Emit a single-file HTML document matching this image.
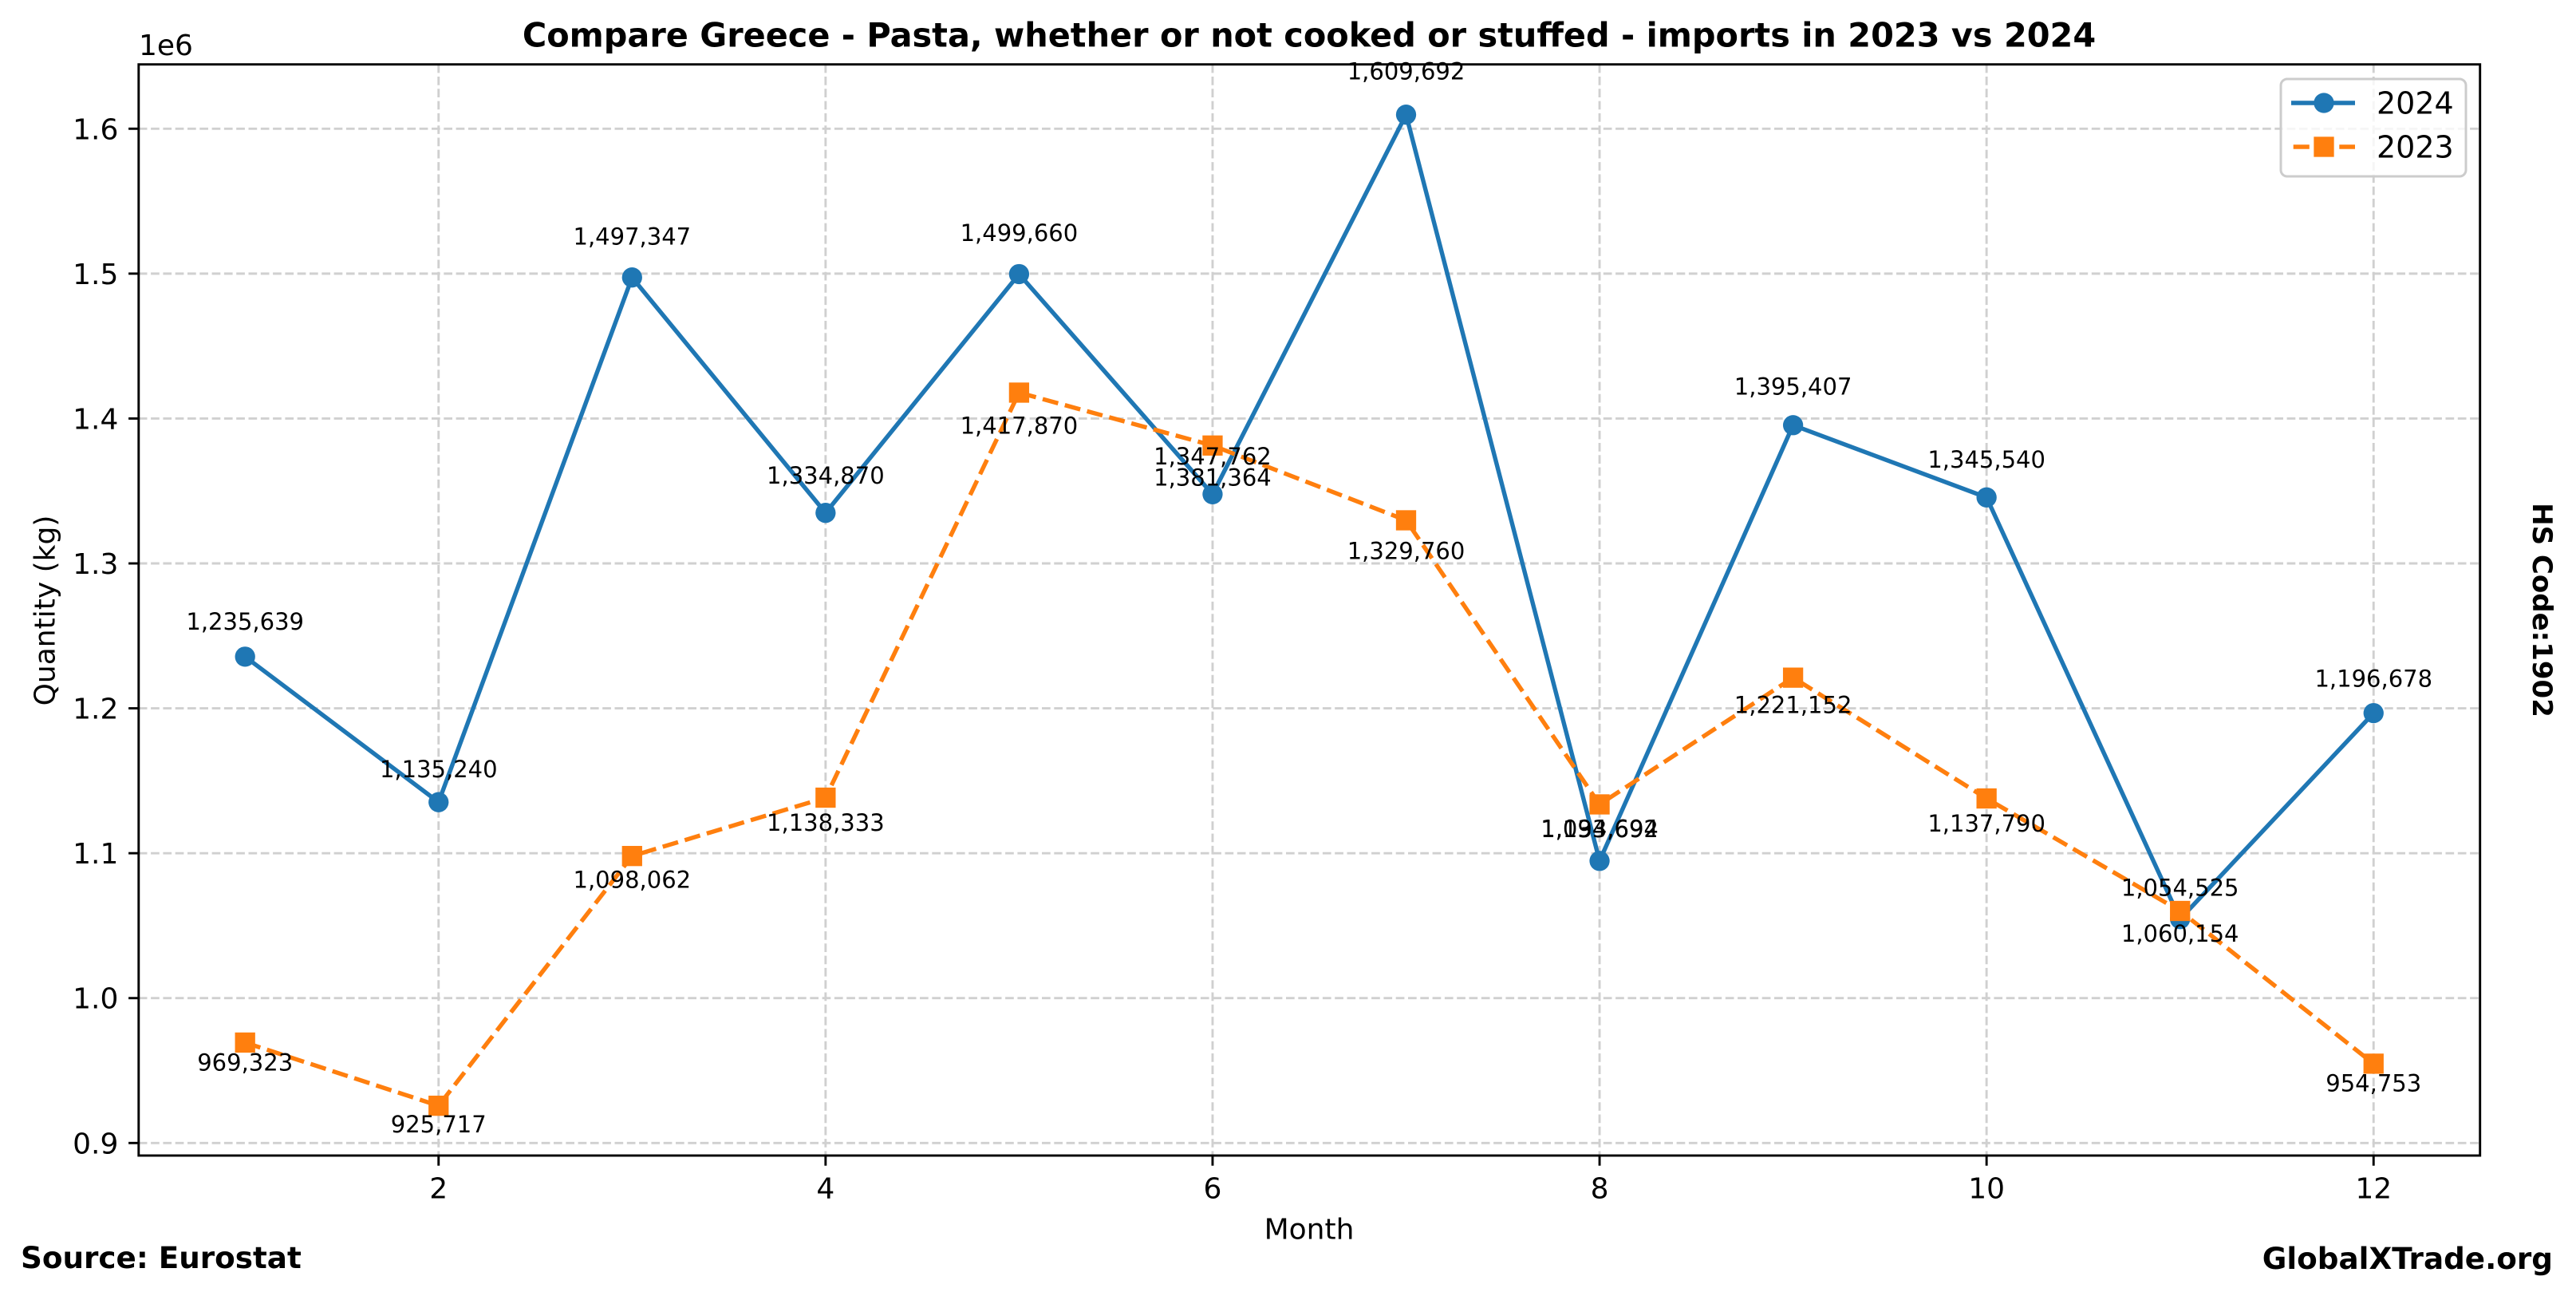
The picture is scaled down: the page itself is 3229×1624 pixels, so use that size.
<!DOCTYPE html>
<html><head><meta charset="utf-8"><style>
html,body{margin:0;padding:0;background:#fff;}
svg{display:block;}
text{font-family:"DejaVu Sans","Liberation Sans",sans-serif;fill:#000;}
</style></head><body>
<svg width="3229" height="1624" viewBox="0 0 3229 1624" xmlns="http://www.w3.org/2000/svg">
<rect x="0" y="0" width="3229" height="1624" fill="#fff"/>
<!-- grid -->
<g stroke="#d0d0d0" stroke-width="2.9" stroke-dasharray="10.7 4.6" fill="none">
<line x1="173.8" y1="161.3" x2="3108.7" y2="161.3"/>
<line x1="173.8" y1="342.87" x2="3108.7" y2="342.87"/>
<line x1="173.8" y1="524.44" x2="3108.7" y2="524.44"/>
<line x1="173.8" y1="706.01" x2="3108.7" y2="706.01"/>
<line x1="173.8" y1="887.58" x2="3108.7" y2="887.58"/>
<line x1="173.8" y1="1069.15" x2="3108.7" y2="1069.15"/>
<line x1="173.8" y1="1250.72" x2="3108.7" y2="1250.72"/>
<line x1="173.8" y1="1432.29" x2="3108.7" y2="1432.29"/>
<line x1="549.75" y1="80.7" x2="549.75" y2="1448"/>
<line x1="1034.85" y1="80.7" x2="1034.85" y2="1448"/>
<line x1="1519.95" y1="80.7" x2="1519.95" y2="1448"/>
<line x1="2005.05" y1="80.7" x2="2005.05" y2="1448"/>
<line x1="2490.15" y1="80.7" x2="2490.15" y2="1448"/>
<line x1="2975.25" y1="80.7" x2="2975.25" y2="1448"/>
</g>
<!-- 2024 series -->
<polyline fill="none" stroke="#1f77b4" stroke-width="5.4" stroke-linejoin="round" points="307.2,822.87 549.75,1005.17 792.3,347.69 1034.85,642.70 1277.4,343.49 1519.95,619.29 1762.5,143.70 2005.05,1078.78 2247.6,532.78 2490.15,623.32 2732.7,1151.72 2975.25,893.61"/>
<g fill="#1f77b4">
<circle cx="307.2" cy="822.87" r="12.65"/>
<circle cx="549.75" cy="1005.17" r="12.65"/>
<circle cx="792.3" cy="347.69" r="12.65"/>
<circle cx="1034.85" cy="642.70" r="12.65"/>
<circle cx="1277.4" cy="343.49" r="12.65"/>
<circle cx="1519.95" cy="619.29" r="12.65"/>
<circle cx="1762.5" cy="143.70" r="12.65"/>
<circle cx="2005.05" cy="1078.78" r="12.65"/>
<circle cx="2247.6" cy="532.78" r="12.65"/>
<circle cx="2490.15" cy="623.32" r="12.65"/>
<circle cx="2732.7" cy="1151.72" r="12.65"/>
<circle cx="2975.25" cy="893.61" r="12.65"/>
</g>
<!-- 2023 series -->
<polyline fill="none" stroke="#ff7f0e" stroke-width="5.4" stroke-dasharray="20.1 8.7" stroke-linejoin="round" points="307.2,1306.42 549.75,1385.60 792.3,1072.67 1034.85,999.55 1277.4,491.99 1519.95,558.28 1762.5,651.98 2005.05,1007.98 2247.6,849.17 2490.15,1000.54 2732.7,1141.50 2975.25,1332.88"/>
<g fill="#ff7f0e">
<rect x="294.55" y="1293.77" width="25.3" height="25.3"/>
<rect x="537.1" y="1372.95" width="25.3" height="25.3"/>
<rect x="779.65" y="1060.02" width="25.3" height="25.3"/>
<rect x="1022.2" y="986.9" width="25.3" height="25.3"/>
<rect x="1264.75" y="479.34" width="25.3" height="25.3"/>
<rect x="1507.3" y="545.63" width="25.3" height="25.3"/>
<rect x="1749.85" y="639.33" width="25.3" height="25.3"/>
<rect x="1992.4" y="995.33" width="25.3" height="25.3"/>
<rect x="2234.95" y="836.52" width="25.3" height="25.3"/>
<rect x="2477.5" y="987.89" width="25.3" height="25.3"/>
<rect x="2720.05" y="1128.85" width="25.3" height="25.3"/>
<rect x="2962.6" y="1320.23" width="25.3" height="25.3"/>
</g>
<!-- annotations -->
<g font-size="29" text-anchor="middle">
<text x="307.2" y="788.8">1,235,639</text>
<text x="549.75" y="973.8">1,135,240</text>
<text x="792.3" y="306.4">1,497,347</text>
<text x="1034.85" y="605.9">1,334,870</text>
<text x="1277.4" y="302.1">1,499,660</text>
<text x="1519.95" y="582.1">1,347,762</text>
<text x="1762.5" y="99.3">1,609,692</text>
<text x="2005.05" y="1048.6">1,094,694</text>
<text x="2247.6" y="494.3">1,395,407</text>
<text x="2490.15" y="586.2">1,345,540</text>
<text x="2732.7" y="1122.6">1,054,525</text>
<text x="2975.25" y="860.6">1,196,678</text>
<text x="307.2" y="1341.6">969,323</text>
<text x="549.75" y="1419.2">925,717</text>
<text x="792.3" y="1112.5">1,098,062</text>
<text x="1034.85" y="1040.9">1,138,333</text>
<text x="1277.4" y="543.5">1,417,870</text>
<text x="1519.95" y="608.4">1,381,364</text>
<text x="1762.5" y="700.3">1,329,760</text>
<text x="2005.05" y="1049.1">1,133,692</text>
<text x="2247.6" y="893.5">1,221,152</text>
<text x="2490.15" y="1041.8">1,137,790</text>
<text x="2732.7" y="1180.0">1,060,154</text>
<text x="2975.25" y="1367.5">954,753</text>
</g>
<!-- legend -->
<rect x="2859" y="99" width="232" height="122" rx="8" ry="8" fill="#fff" fill-opacity="0.8" stroke="#cccccc" stroke-width="3"/>
<line x1="2872" y1="129" x2="2952" y2="129" stroke="#1f77b4" stroke-width="5.4"/>
<circle cx="2913" cy="129" r="12.65" fill="#1f77b4"/>
<line x1="2872" y1="184" x2="2952" y2="184" stroke="#ff7f0e" stroke-width="5.4" stroke-dasharray="20.1 8.7" stroke-dashoffset="-2.7"/>
<rect x="2900.35" y="171.35" width="25.3" height="25.3" fill="#ff7f0e"/>
<text x="2979" y="142.7" font-size="38">2024</text>
<text x="2979" y="197.7" font-size="38">2023</text>
<!-- axes spines -->
<rect x="173.8" y="80.7" width="2934.9" height="1367.3" fill="none" stroke="#000" stroke-width="2.9"/>
<!-- ticks -->
<g stroke="#000" stroke-width="2.9">
<line x1="161.1" y1="161.3" x2="173.8" y2="161.3"/>
<line x1="161.1" y1="342.87" x2="173.8" y2="342.87"/>
<line x1="161.1" y1="524.44" x2="173.8" y2="524.44"/>
<line x1="161.1" y1="706.01" x2="173.8" y2="706.01"/>
<line x1="161.1" y1="887.58" x2="173.8" y2="887.58"/>
<line x1="161.1" y1="1069.15" x2="173.8" y2="1069.15"/>
<line x1="161.1" y1="1250.72" x2="173.8" y2="1250.72"/>
<line x1="161.1" y1="1432.29" x2="173.8" y2="1432.29"/>
<line x1="549.75" y1="1448" x2="549.75" y2="1460.7"/>
<line x1="1034.85" y1="1448" x2="1034.85" y2="1460.7"/>
<line x1="1519.95" y1="1448" x2="1519.95" y2="1460.7"/>
<line x1="2005.05" y1="1448" x2="2005.05" y2="1460.7"/>
<line x1="2490.15" y1="1448" x2="2490.15" y2="1460.7"/>
<line x1="2975.25" y1="1448" x2="2975.25" y2="1460.7"/>
</g>
<g font-size="36" text-anchor="end">
<text x="148.4" y="174.3">1.6</text>
<text x="148.4" y="355.9">1.5</text>
<text x="148.4" y="537.4">1.4</text>
<text x="148.4" y="719">1.3</text>
<text x="148.4" y="900.6">1.2</text>
<text x="148.4" y="1082.2">1.1</text>
<text x="148.4" y="1263.7">1.0</text>
<text x="148.4" y="1445.3">0.9</text>
</g>
<g font-size="36" text-anchor="middle">
<text x="549.75" y="1501.5">2</text>
<text x="1034.85" y="1501.5">4</text>
<text x="1519.95" y="1501.5">6</text>
<text x="2005.05" y="1501.5">8</text>
<text x="2490.15" y="1501.5">10</text>
<text x="2975.25" y="1501.5">12</text>
</g>
<text x="174" y="69" font-size="36">1e6</text>
<text x="1641" y="1552.7" font-size="36" text-anchor="middle">Month</text>
<text transform="translate(68.3,765) rotate(-90)" font-size="36" text-anchor="middle">Quantity (kg)</text>
<text x="1641" y="58.5" font-size="41.4" font-weight="bold" text-anchor="middle">Compare Greece - Pasta, whether or not cooked or stuffed - imports in 2023 vs 2024</text>
<text transform="translate(3175,764.5) rotate(90)" font-size="34" font-weight="bold" text-anchor="middle">HS Code:1902</text>
<text x="26" y="1589" font-size="37.3" font-weight="bold">Source: Eurostat</text>
<text x="3200" y="1590" font-size="37.3" font-weight="bold" text-anchor="end">GlobalXTrade.org</text>
</svg>
</body></html>
